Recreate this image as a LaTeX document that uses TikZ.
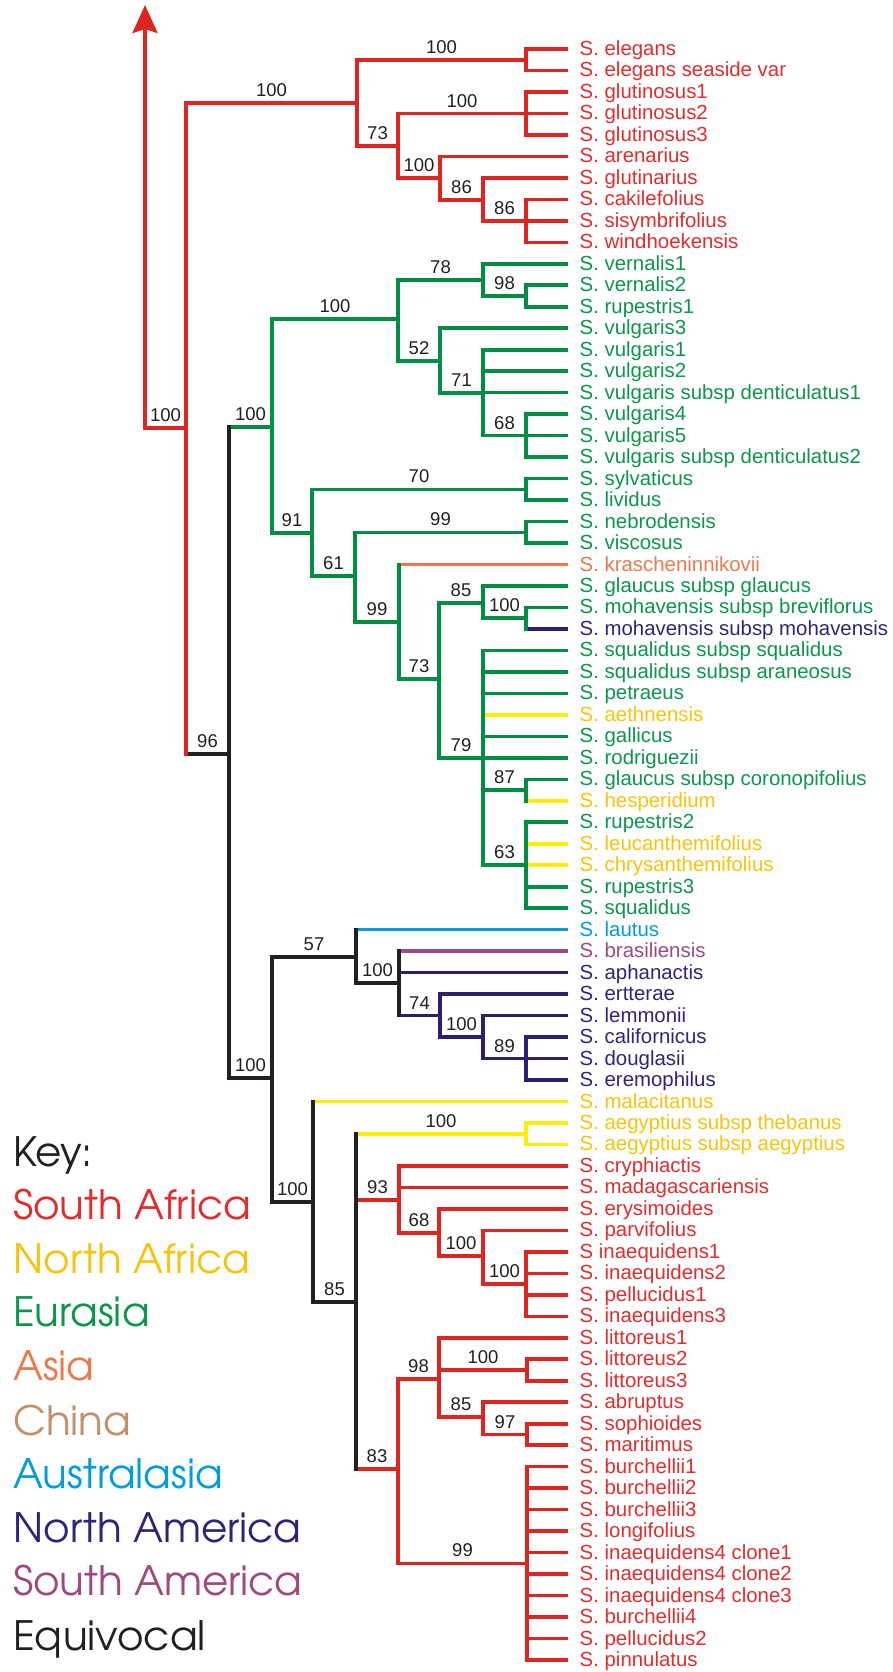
\documentclass[tikz,border=0pt]{standalone}
\usepackage{fontspec}
\setmainfont{Liberation Sans}
\newfontfamily\keyfont{TeX Gyre Adventor}
\usepackage{xcolor}
\usepackage{tikz}
\usetikzlibrary{arrows.meta, calc}
\definecolor{safrica}{RGB}{222,37,33}
\definecolor{safricatxt}{RGB}{225,45,45}
\definecolor{nafrica}{RGB}{255,238,0}
\definecolor{nafricatxt}{RGB}{246,196,12}
\definecolor{eurasia}{RGB}{0,141,68}
\definecolor{eurasiatxt}{RGB}{12,150,76}
\definecolor{asia}{RGB}{234,122,76}
\definecolor{asiatxt}{RGB}{234,122,76}
\definecolor{china}{RGB}{193,143,104}
\definecolor{austral}{RGB}{0,156,222}
\definecolor{australtxt}{RGB}{0,156,222}
\definecolor{namerica}{RGB}{41,31,115}
\definecolor{namericatxt}{RGB}{45,38,120}
\definecolor{samerica}{RGB}{157,74,128}
\definecolor{samericatxt}{RGB}{157,74,128}
\definecolor{equivocal}{RGB}{35,31,32}

\begin{document}
\begin{tikzpicture}[
    x=1pt, y=-1pt,
    branch/.style={line width=3.6pt},
    stem/.style={line width=3.6pt, line cap=rect},
    tip/.style={anchor=base west, inner sep=0pt, font=\fontsize{20.4}{24}\selectfont},
    boot/.style={above=4.4pt, inner sep=0pt, text=equivocal, font=\fontsize{18.5}{22}\selectfont},
    keyitem/.style={anchor=base west, inner sep=0pt, font=\keyfont\fontsize{40.5}{46}\selectfont}
]
\useasboundingbox (0,0) rectangle (893,1672);

% Root and outgroup
\coordinate (root) at (186,428);
\coordinate (og) at (145,428);
\coordinate (ogtip) at (145,5);

% South African clade
\coordinate (sa) at (357,103);
\coordinate (eleg) at (526,59.75);
\coordinate (n73) at (398,146);
\coordinate (glut) at (526,113.4);
\coordinate (n100b) at (440,177.9);
\coordinate (n86a) at (483,200);
\coordinate (n86b) at (526,220.8);

% Eurasian clade
\coordinate (n96) at (229,754);
\coordinate (eur) at (272,427);
\coordinate (g100) at (398,319);
\coordinate (g78) at (483,280);
\coordinate (g98) at (526,296);
\coordinate (g52) at (440,361);
\coordinate (g71) at (483,392.7);
\coordinate (g68) at (526,435.6);
\coordinate (g91) at (312,533);
\coordinate (g70) at (526,489.3);
\coordinate (g61) at (355,576);
\coordinate (g99a) at (526,532.3);
\coordinate (g99b) at (399,622);
\coordinate (g73) at (439,679);
\coordinate (g85) at (483,603);
\coordinate (g100m) at (526,618.2);
\coordinate (g79) at (483,757.8);
\coordinate (g87) at (526,790);
\coordinate (g63) at (526,865.2);

% Lower clades
\coordinate (eq100) at (272,1078);
\coordinate (b57) at (356,957);
\coordinate (b100) at (399,983);
\coordinate (na74) at (440,1015.6);
\coordinate (na100) at (483,1037.1);
\coordinate (na89) at (526,1058.6);
\coordinate (b100b) at (313,1202);
\coordinate (b85) at (356,1302);
\coordinate (y100) at (526,1133.7);
\coordinate (r93) at (399,1200);
\coordinate (r68) at (439,1233);
\coordinate (r100a) at (483,1256);
\coordinate (r100b) at (526,1284.1);
\coordinate (r83) at (398,1469);
\coordinate (r98) at (439,1379);
\coordinate (r100c) at (527,1370);
\coordinate (r85) at (483,1417);
\coordinate (r97) at (527,1434.5);
\coordinate (r99) at (527,1563.3);

% Taxa
\foreach \lbl/\col/\mom [count=\i] in {
    S. elegans/safrica/eleg, S. elegans seaside var/safrica/eleg,
    S. glutinosus1/safrica/glut, S. glutinosus2/safrica/glut, S. glutinosus3/safrica/glut,
    S. arenarius/safrica/n100b, S. glutinarius/safrica/n86a,
    S. cakilefolius/safrica/n86b, S. sisymbrifolius/safrica/n86b, S. windhoekensis/safrica/n86b,
    S. vernalis1/eurasia/g78, S. vernalis2/eurasia/g98, S. rupestris1/eurasia/g98,
    S. vulgaris3/eurasia/g52,
    S. vulgaris1/eurasia/g71, S. vulgaris2/eurasia/g71, S. vulgaris subsp denticulatus1/eurasia/g71,
    S. vulgaris4/eurasia/g68, S. vulgaris5/eurasia/g68, S. vulgaris subsp denticulatus2/eurasia/g68,
    S. sylvaticus/eurasia/g70, S. lividus/eurasia/g70,
    S. nebrodensis/eurasia/g99a, S. viscosus/eurasia/g99a,
    S. krascheninnikovii/asia/g99b,
    S. glaucus subsp glaucus/eurasia/g85,
    S. mohavensis subsp breviflorus/eurasia/g100m, S. mohavensis subsp mohavensis/namerica/g100m,
    S. squalidus subsp squalidus/eurasia/g79, S. squalidus subsp araneosus/eurasia/g79,
    S. petraeus/eurasia/g79, S. aethnensis/nafrica/g79, S. gallicus/eurasia/g79, S. rodriguezii/eurasia/g79,
    S. glaucus subsp coronopifolius/eurasia/g87, S. hesperidium/nafrica/g87,
    S. rupestris2/eurasia/g63, S. leucanthemifolius/nafrica/g63, S. chrysanthemifolius/nafrica/g63,
    S. rupestris3/eurasia/g63, S. squalidus/eurasia/g63,
    S. lautus/austral/b57, S. brasiliensis/samerica/b100, S. aphanactis/namerica/b100,
    S. ertterae/namerica/na74, S. lemmonii/namerica/na100,
    S. californicus/namerica/na89, S. douglasii/namerica/na89, S. eremophilus/namerica/na89,
    S. malacitanus/nafrica/b100b,
    S. aegyptius subsp thebanus/nafrica/y100, S. aegyptius subsp aegyptius/nafrica/y100,
    S. cryphiactis/safrica/r93, S. madagascariensis/safrica/r93,
    S. erysimoides/safrica/r68, S. parvifolius/safrica/r100a,
    S inaequidens1/safrica/r100b, S. inaequidens2/safrica/r100b,
    S. pellucidus1/safrica/r100b, S. inaequidens3/safrica/r100b,
    S. littoreus1/safrica/r98, S. littoreus2/safrica/r100c, S. littoreus3/safrica/r100c,
    S. abruptus/safrica/r85, S. sophioides/safrica/r97, S. maritimus/safrica/r97,
    S. burchellii1/safrica/r99, S. burchellii2/safrica/r99, S. burchellii3/safrica/r99,
    S. longifolius/safrica/r99, S. inaequidens4 clone1/safrica/r99,
    S. inaequidens4 clone2/safrica/r99, S. inaequidens4 clone3/safrica/r99,
    S. burchellii4/safrica/r99, S. pellucidus2/safrica/r99, S. pinnulatus/safrica/r99}
{
    \coordinate (tip\i) at (568,{49+(\i-1)*21.48});
    \draw[branch, \col] (\mom |- tip\i) -- (tip\i);
    \node[tip, text=\col txt] (taxon\i) at ($(tip\i)+(11.5,6.5)$) {\lbl};
}

% Branches with support values
\draw[branch, safrica] (root) -- node[boot] {100} (og);
\draw[branch, safrica] (root |- sa) -- node[boot] {100} (sa);
\draw[branch, safrica] (sa |- eleg) -- node[boot] {100} (eleg);
\draw[branch, safrica] (sa |- n73) -- node[boot] {73} (n73);
\draw[branch, safrica] (n73 |- glut) -- node[boot] {100} (glut);
\draw[branch, safrica] (n73 |- n100b) -- node[boot] {100} (n100b);
\draw[branch, safrica] (n100b |- n86a) -- node[boot] {86} (n86a);
\draw[branch, safrica] (n86a |- n86b) -- node[boot] {86} (n86b);
\draw[branch, equivocal] (root |- n96) -- node[boot] {96} (n96);

\draw[branch, eurasia] (n96 |- eur) -- node[boot] {100} (eur);
\draw[branch, eurasia] (eur |- g100) -- node[boot] {100} (g100);
\draw[branch, eurasia] (g100 |- g78) -- node[boot] {78} (g78);
\draw[branch, eurasia] (g78 |- g98) -- node[boot] {98} (g98);
\draw[branch, eurasia] (g100 |- g52) -- node[boot] {52} (g52);
\draw[branch, eurasia] (g52 |- g71) -- node[boot] {71} (g71);
\draw[branch, eurasia] (g71 |- g68) -- node[boot] {68} (g68);
\draw[branch, eurasia] (eur |- g91) -- node[boot] {91} (g91);
\draw[branch, eurasia] (g91 |- g70) -- node[boot] {70} (g70);
\draw[branch, eurasia] (g91 |- g61) -- node[boot] {61} (g61);
\draw[branch, eurasia] (g61 |- g99a) -- node[boot] {99} (g99a);
\draw[branch, eurasia] (g61 |- g99b) -- node[boot] {99} (g99b);
\draw[branch, eurasia] (g99b |- g73) -- node[boot] {73} (g73);
\draw[branch, eurasia] (g73 |- g85) -- node[boot] {85} (g85);
\draw[branch, eurasia] (g85 |- g100m) -- node[boot] {100} (g100m);
\draw[branch, eurasia] (g73 |- g79) -- node[boot] {79} (g79);
\draw[branch, eurasia] (g79 |- g87) -- node[boot] {87} (g87);
\draw[branch, eurasia] (g79 |- g63) -- node[boot] {63} (g63);

\draw[branch, equivocal] (n96 |- eq100) -- node[boot] {100} (eq100);
\draw[branch, equivocal] (eq100 |- b57) -- node[boot] {57} (b57);
\draw[branch, equivocal] (b57 |- b100) -- node[boot] {100} (b100);
\draw[branch, namerica] (b100 |- na74) -- node[boot] {74} (na74);
\draw[branch, namerica] (na74 |- na100) -- node[boot] {100} (na100);
\draw[branch, namerica] (na100 |- na89) -- node[boot] {89} (na89);
\draw[branch, equivocal] (eq100 |- b100b) -- node[boot] {100} (b100b);
\draw[branch, equivocal] (b100b |- b85) -- node[boot] {85} (b85);
\draw[branch, nafrica] (b85 |- y100) -- node[boot] {100} (y100);
\draw[branch, safrica] (b85 |- r93) -- node[boot] {93} (r93);
\draw[branch, safrica] (r93 |- r68) -- node[boot] {68} (r68);
\draw[branch, safrica] (r68 |- r100a) -- node[boot] {100} (r100a);
\draw[branch, safrica] (r100a |- r100b) -- node[boot] {100} (r100b);
\draw[branch, safrica] (b85 |- r83) -- node[boot] {83} (r83);
\draw[branch, safrica] (r83 |- r98) -- node[boot] {98} (r98);
\draw[branch, safrica] (r98 |- r100c) -- node[boot] {100} (r100c);
\draw[branch, safrica] (r98 |- r85) -- node[boot] {85} (r85);
\draw[branch, safrica] (r85 |- r97) -- node[boot] {97} (r97);
\draw[branch, safrica] (r83 |- r99) -- node[boot] {99} (r99);

% Vertical stems
\foreach \n/\a/\b/\col in {
    root/sa/n96/safrica, sa/eleg/n73/safrica, eleg/tip1/tip2/safrica,
    n73/glut/n100b/safrica, glut/tip3/tip5/safrica, n100b/tip6/n86a/safrica,
    n86a/tip7/n86b/safrica, n86b/tip8/tip10/safrica,
    n96/eur/eq100/equivocal,
    eur/g100/g91/eurasia, g100/g78/g52/eurasia, g78/tip11/g98/eurasia, g98/tip12/tip13/eurasia,
    g52/tip14/g71/eurasia, g71/tip15/g68/eurasia, g68/tip18/tip20/eurasia,
    g91/g70/g61/eurasia, g70/tip21/tip22/eurasia, g61/g99a/g99b/eurasia, g99a/tip23/tip24/eurasia,
    g99b/tip25/g73/eurasia, g73/g85/g79/eurasia, g85/tip26/g100m/eurasia, g100m/tip27/tip28/eurasia,
    g79/tip29/g63/eurasia, g87/tip35/tip36/eurasia, g63/tip37/tip41/eurasia,
    eq100/b57/b100b/equivocal, b57/tip42/b100/equivocal, b100/tip43/na74/equivocal,
    na74/tip45/na100/namerica, na100/tip46/na89/namerica, na89/tip47/tip49/namerica,
    b100b/tip50/b85/equivocal, b85/y100/r83/equivocal, y100/tip51/tip52/nafrica,
    r93/tip53/r68/safrica, r68/tip55/r100a/safrica, r100a/tip56/r100b/safrica, r100b/tip57/tip60/safrica,
    r83/r98/r99/safrica, r98/tip61/r85/safrica, r100c/tip62/tip63/safrica,
    r85/tip64/r97/safrica, r97/tip65/tip66/safrica, r99/tip67/tip76/safrica}
    \draw[stem, \col] (\n |- \a) -- (\n |- \b);

% Outgroup arrow
\draw[stem, safrica, -{Stealth[length=28pt, width=25pt, inset=4pt]}] (og) -- (ogtip);

% Key
\node[keyitem, text=equivocal] (keytitle) at (13,1166) {Key:};
\node[keyitem, text=safricatxt] (keysaf) at (13,1219) {South Africa};
\node[keyitem, text=nafricatxt] (keynaf) at (13,1273) {North Africa};
\node[keyitem, text=eurasiatxt] (keyeur) at (13,1326) {Eurasia};
\node[keyitem, text=asiatxt] (keyasia) at (13,1380) {Asia};
\node[keyitem, text=china] (keychina) at (13,1435) {China};
\node[keyitem, text=australtxt] (keyaus) at (13,1488) {Australasia};
\node[keyitem, text=namericatxt] (keynam) at (13,1542) {North America};
\node[keyitem, text=samericatxt] (keysam) at (13,1595) {South America};
\node[keyitem, text=equivocal] (keyequi) at (13,1650) {Equivocal};

\end{tikzpicture}
\end{document}
